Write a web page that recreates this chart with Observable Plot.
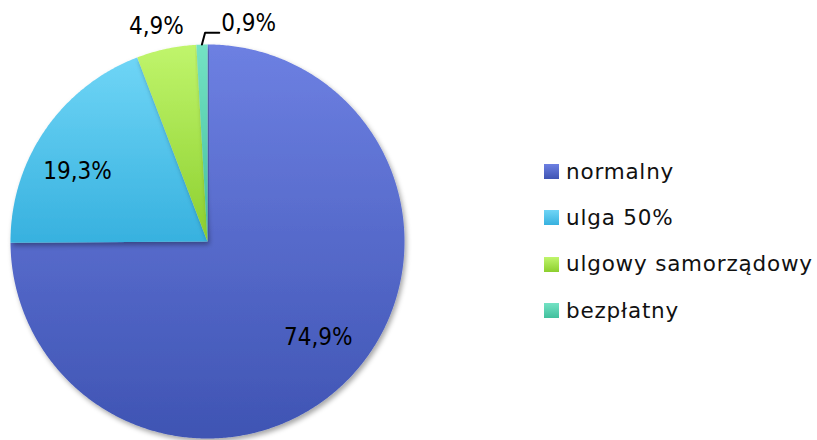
<!DOCTYPE html>
<html>
<head>
<meta charset="utf-8">
<script src="https://cdn.jsdelivr.net/npm/d3@7"></script>
<script src="https://cdn.jsdelivr.net/npm/@observablehq/plot@0.6"></script>
<style>
  html, body { margin: 0; padding: 0; background: #fff; }
  #wrap { position: relative; width: 817px; height: 440px; }
  #legend { position: absolute; left: 0; top: 0; }
  .sw { position: absolute; left: 544px; width: 15px; height: 15px; }
  .lt { position: absolute; left: 566px; font-family: "DejaVu Sans", sans-serif; font-size: 21.5px; line-height: 21.5px; letter-spacing: 0.8px; color: #111; white-space: nowrap; }
</style>
</head>
<body>
<div id="wrap"><div id="chart"></div><div id="legend"></div></div>
<script>
// ---- data ----
const categories = ["normalny", "ulga 50%", "ulgowy samorządowy", "bezpłatny"];
const shares = [74.9, 19.3, 4.9, 0.9];
const labels = ["74,9%", "19,3%", "4,9%", "0,9%"];

// ---- styles ----
const gradTop = ["#6d80e2", "#6fd5f6", "#c0f56c", "#74e2c4"];
const gradBot = ["#3f54b3", "#37b1df", "#8ccf2e", "#41c09d"];
const labelDx = [6, -8, -5];
const labelDy = [-8, 13, 1];

// ---- geometry from the values ----
const total = d3.sum(shares);
const pie = d3.pie().sort(null).value(d => d)(shares);
const polar = (a, r) => ({x: r * Math.sin(a), y: r * Math.cos(a)});

const slicePts = [];
pie.forEach((p, i) => {
  slicePts.push({i, ...polar(0, 0)});
  const n = Math.max(2, Math.ceil((p.endAngle - p.startAngle) / (Math.PI / 360)));
  for (let k = 0; k <= n; k++) {
    const a = p.startAngle + (p.endAngle - p.startAngle) * k / n;
    slicePts.push({i, ...polar(a, 1)});
  }
});

const labelPts = pie.map((p, i) => {
  const mid = (p.startAngle + p.endAngle) / 2;
  const big = shares[i] / total > 0.1;
  return {i, text: labels[i], ...polar(mid, big ? 0.75 : 1.12)};
});

// leader for the tiniest slice
const tiny = pie[3];
const tmid = (tiny.startAngle + tiny.endAngle) / 2;
const l0 = polar(tmid, 1.0);
const l1 = {x: l0.x + 0.016, y: 1.06};
const l2 = {x: l1.x + 0.072, y: 1.06};
const leader = [l0, l1, l2];

const marks = [
  () => {
    const defs = d3.create("svg:defs");
    gradTop.forEach((c, i) => {
      const g = defs.append("linearGradient").attr("id", "g" + i)
        .attr("x1", 0).attr("y1", 0).attr("x2", 0).attr("y2", 1);
      g.append("stop").attr("offset", 0).attr("stop-color", c);
      g.append("stop").attr("offset", 1).attr("stop-color", gradBot[i]);
    });
    const f = defs.append("filter").attr("id", "sh").attr("x", -0.1).attr("y", -0.1).attr("width", 1.2).attr("height", 1.2);
    f.append("feDropShadow").attr("dx", 2).attr("dy", 3).attr("stdDeviation", 2.5).attr("flood-color", "#000").attr("flood-opacity", 0.35);
    return defs.node();
  }
];
categories.forEach((c, i) => {
  marks.push(Plot.line(slicePts.filter(d => d.i === i), {
    x: "x", y: "y", curve: "linear-closed",
    fill: `url(#g${i})`, stroke: "none"
  }));
});
labelPts.filter(d => d.i < 3).forEach(d => {
  marks.push(Plot.text([d], {
    x: "x", y: "y", text: "text", fontSize: 24, fill: "#000", dx: labelDx[d.i], dy: labelDy[d.i]
  }));
});
marks.push(Plot.line(leader, {x: "x", y: "y", stroke: "#000", strokeWidth: 2}));
marks.push(Plot.text([{...l2, text: labels[3]}], {
  x: "x", y: "y", text: "text", fontSize: 24, fill: "#000", textAnchor: "start", dx: 2, dy: -9
}));

const plot = Plot.plot({
  width: 817, height: 440,
  margin: 0,
  x: {domain: [-1, 1], range: [10, 404], axis: null},
  y: {domain: [-1, 1], range: [438, 44], axis: null},
  style: {fontFamily: '"DejaVu Sans Condensed", "DejaVu Sans", sans-serif', background: "transparent", overflow: "visible"},
  marks
});
document.getElementById("chart").appendChild(plot);

// drop shadow on the pie
const gs = plot.querySelectorAll("g[aria-label='line']");
gs.forEach((g, k) => { if (k < categories.length) g.setAttribute("filter", "url(#sh)"); });

// ---- legend ----
const leg = document.getElementById("legend");
categories.forEach((c, i) => {
  const base = 179 + i * 46.3;
  const sw = document.createElement("div");
  sw.className = "sw";
  sw.style.top = (base - 15) + "px";
  sw.style.background = `linear-gradient(${gradTop[i]},${gradBot[i]})`;
  leg.appendChild(sw);
  const t = document.createElement("div");
  t.className = "lt";
  t.style.top = (base - 18.2) + "px";
  t.textContent = c;
  leg.appendChild(t);
});
</script>
</body>
</html>
